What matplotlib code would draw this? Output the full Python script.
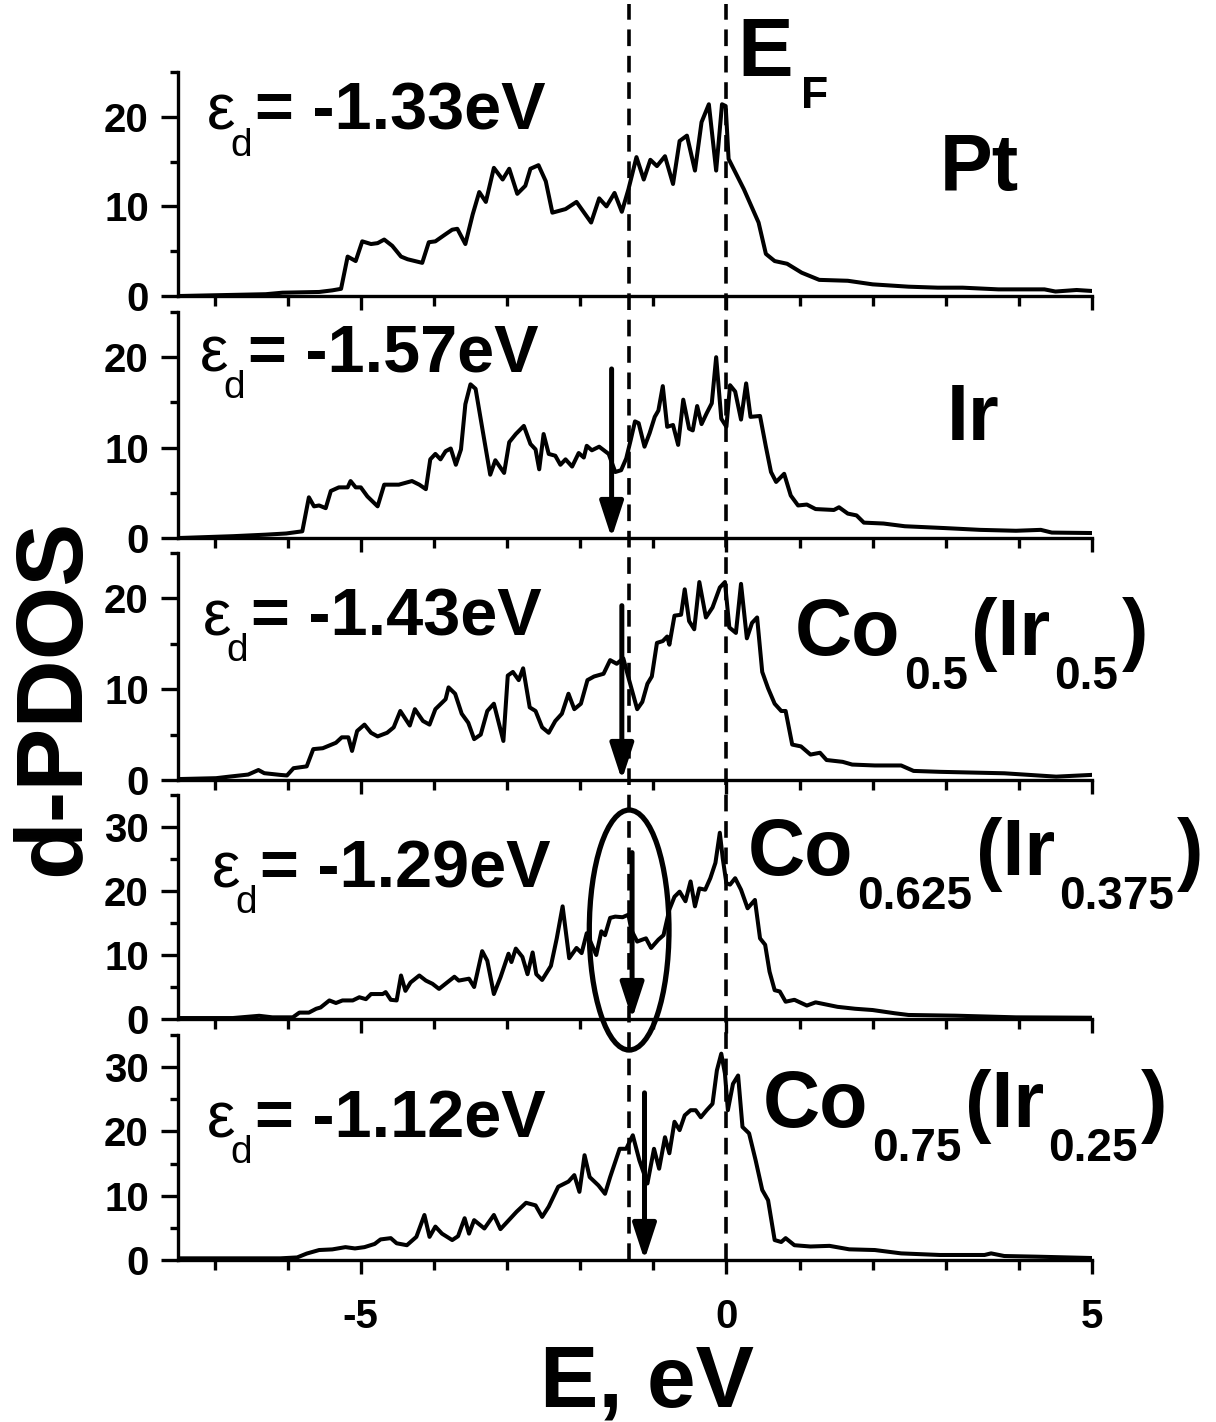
import matplotlib

matplotlib.use("Agg")
import matplotlib.pyplot as plt
from matplotlib.lines import Line2D
from matplotlib.patches import Ellipse
from matplotlib.ticker import MultipleLocator
from matplotlib.transforms import blended_transform_factory

plt.rcParams["font.family"] = ["Liberation Sans", "DejaVu Sans"]
plt.rcParams["font.weight"] = "bold"
plt.rcParams["axes.unicode_minus"] = False
plt.rcParams["lines.scale_dashes"] = False

FIG_W, FIG_H = 1216, 1422

# d-projected DOS, one curve per system (energy in eV, relative to E_F)
pt_e = [-7.48, -6.30, -6.07, -5.57, -5.39, -5.27, -5.18, -5.07, -4.98, -4.86, -4.77, -4.68,
        -4.57, -4.45, -4.36, -4.16, -4.07, -3.98, -3.84, -3.75, -3.68, -3.57, -3.47, -3.38,
        -3.29, -3.18, -3.06, -2.97, -2.86, -2.75, -2.68, -2.57, -2.47, -2.38, -2.20, -2.05,
        -1.85, -1.74, -1.64, -1.53, -1.43, -1.34, -1.23, -1.13, -1.04, -0.95, -0.84, -0.73,
        -0.64, -0.54, -0.43, -0.34, -0.24, -0.14, -0.06, -0.01, 0.03, 0.24, 0.44, 0.54,
        0.66, 0.83, 1.03, 1.27, 1.66, 2.00, 2.49, 2.89, 3.23, 3.72, 4.35, 4.50, 4.79, 5.00]
pt_dos = [0.0, 0.2, 0.37, 0.45, 0.63, 0.8, 4.4, 3.9, 6.1, 5.8, 5.9, 6.3,
          5.6, 4.4, 4.1, 3.7, 6.0, 6.1, 6.9, 7.4, 7.5, 5.8, 9.1, 11.6,
          10.5, 14.3, 13.0, 14.2, 11.4, 12.3, 14.2, 14.6, 12.8, 9.3, 9.7, 10.5,
          8.2, 10.9, 10.0, 11.5, 9.4, 11.9, 15.5, 13.0, 15.2, 14.5, 15.6, 12.5,
          17.3, 17.9, 14.0, 19.4, 21.4, 14.0, 21.4, 21.2, 15.3, 11.9, 8.2, 4.7,
          3.9, 3.6, 2.6, 1.8, 1.7, 1.3, 1.04, 0.93, 0.93, 0.74, 0.74, 0.5, 0.67, 0.56]

ir_e = [-7.48, -6.75, -6.30, -6.02, -5.80, -5.71, -5.64, -5.57, -5.48, -5.41, -5.30, -5.18,
        -5.14, -5.07, -5.00, -4.91, -4.77, -4.68, -4.48, -4.30, -4.20, -4.11, -4.05, -3.98,
        -3.91, -3.84, -3.77, -3.70, -3.63, -3.57, -3.50, -3.43, -3.34, -3.23, -3.16, -3.04,
        -2.97, -2.88, -2.77, -2.68, -2.61, -2.56, -2.50, -2.43, -2.34, -2.27, -2.20, -2.11,
        -2.02, -1.95, -1.91, -1.84, -1.74, -1.61, -1.52, -1.44, -1.37, -1.31, -1.25, -1.20,
        -1.12, -1.05, -0.98, -0.93, -0.87, -0.81, -0.73, -0.66, -0.59, -0.51, -0.46, -0.40,
        -0.34, -0.27, -0.20, -0.14, -0.07, 0.00, 0.05, 0.12, 0.20, 0.27, 0.33, 0.46,
        0.54, 0.61, 0.68, 0.79, 0.88, 0.98, 1.10, 1.22, 1.47, 1.54, 1.66, 1.78,
        1.88, 2.15, 2.44, 2.98, 3.47, 3.96, 4.30, 4.45, 5.00]
ir_dos = [0.0, 0.2, 0.37, 0.5, 0.74, 4.5, 3.5, 3.6, 3.3, 5.2, 5.6, 5.6,
          6.3, 5.6, 5.6, 4.6, 3.5, 5.9, 5.9, 6.3, 5.9, 5.4, 8.7, 9.3,
          8.7, 9.6, 9.9, 8.1, 9.8, 14.8, 17.0, 16.5, 12.2, 7.0, 8.6, 7.2,
          10.6, 11.5, 12.4, 10.4, 9.8, 7.6, 11.5, 9.3, 9.1, 8.1, 8.7, 7.9,
          9.4, 8.9, 10.2, 9.7, 10.1, 9.3, 7.3, 7.5, 8.8, 10.8, 12.9, 12.7,
          10.1, 11.6, 13.4, 14.1, 16.8, 12.3, 12.5, 10.3, 15.3, 12.1, 11.9, 14.6,
          12.6, 13.8, 14.9, 20.0, 13.2, 12.3, 16.9, 16.2, 13.1, 17.1, 13.4, 13.5,
          10.1, 7.3, 6.2, 7.1, 4.7, 3.6, 3.7, 3.2, 3.1, 3.4, 2.7, 2.5,
          1.7, 1.6, 1.3, 1.1, 0.9, 0.8, 0.9, 0.6, 0.55]

co50_e = [-7.51, -6.98, -6.80, -6.54, -6.40, -6.32, -6.10, -6.01, -5.92, -5.74, -5.65, -5.52,
          -5.34, -5.26, -5.17, -5.12, -5.05, -4.95, -4.86, -4.77, -4.64, -4.55, -4.46, -4.33,
          -4.26, -4.15, -4.06, -3.98, -3.84, -3.80, -3.71, -3.62, -3.53, -3.45, -3.36, -3.27,
          -3.18, -3.05, -2.99, -2.92, -2.84, -2.78, -2.69, -2.61, -2.52, -2.43, -2.34, -2.25,
          -2.16, -2.08, -1.99, -1.90, -1.81, -1.68, -1.59, -1.50, -1.41, -1.33, -1.22, -1.15,
          -1.08, -1.02, -0.95, -0.87, -0.81, -0.78, -0.71, -0.62, -0.57, -0.51, -0.44, -0.37,
          -0.28, -0.19, -0.09, -0.02, 0.04, 0.13, 0.20, 0.28, 0.35, 0.42, 0.49, 0.57,
          0.66, 0.75, 0.81, 0.90, 1.02, 1.15, 1.28, 1.37, 1.59, 1.72, 2.03, 2.39,
          2.56, 2.92, 3.80, 4.51, 4.99]
co50_dos = [0.1, 0.2, 0.37, 0.6, 1.1, 0.75, 0.56, 0.5, 1.3, 1.5, 3.4, 3.5,
            4.1, 4.7, 4.7, 3.2, 5.4, 6.1, 5.2, 4.8, 5.2, 5.8, 7.6, 6.0,
            7.8, 6.5, 6.1, 7.8, 8.9, 10.2, 9.5, 7.3, 6.3, 4.5, 5.0, 7.6,
            8.4, 4.3, 11.5, 11.9, 11.0, 12.3, 8.0, 7.6, 5.8, 5.2, 6.5, 7.3,
            9.5, 7.8, 8.4, 11.0, 11.4, 11.7, 13.2, 12.8, 13.4, 11.0, 7.8, 8.6,
            10.6, 11.4, 15.1, 15.3, 15.8, 14.9, 18.1, 18.2, 21.0, 17.5, 16.6, 21.8,
            17.9, 19.0, 21.2, 21.8, 16.8, 16.2, 21.6, 15.6, 17.3, 17.9, 11.9, 10.1,
            8.4, 7.6, 7.6, 3.9, 3.7, 2.8, 3.0, 2.2, 2.0, 1.7, 1.6, 1.6,
            1.0, 0.9, 0.74, 0.37, 0.56]

co625_e = [-7.48, -6.75, -6.39, -6.21, -5.93, -5.84, -5.71, -5.61, -5.55, -5.43, -5.34, -5.25,
           -5.11, -5.02, -4.93, -4.86, -4.70, -4.66, -4.59, -4.51, -4.45, -4.39, -4.32, -4.20,
           -4.11, -4.02, -3.93, -3.82, -3.72, -3.66, -3.52, -3.45, -3.34, -3.27, -3.18, -3.09,
           -2.98, -2.94, -2.88, -2.79, -2.72, -2.65, -2.60, -2.52, -2.40, -2.32, -2.24, -2.15,
           -2.05, -1.98, -1.91, -1.86, -1.78, -1.71, -1.66, -1.59, -1.52, -1.42, -1.34, -1.30,
           -1.22, -1.15, -1.10, -1.03, -0.93, -0.86, -0.78, -0.71, -0.64, -0.56, -0.49, -0.43,
           -0.37, -0.29, -0.22, -0.15, -0.09, -0.05, 0.00, 0.05, 0.12, 0.20, 0.29, 0.39,
           0.46, 0.53, 0.59, 0.66, 0.73, 0.81, 0.93, 1.10, 1.22, 1.52, 1.76, 2.00,
           2.30, 2.49, 3.13, 3.96, 5.00]
co625_dos = [0.15, 0.15, 0.5, 0.26, 0.26, 1.0, 1.0, 1.6, 1.8, 2.9, 2.5, 2.9,
             2.9, 3.4, 3.1, 3.9, 3.9, 4.2, 3.0, 2.9, 6.8, 4.4, 5.7, 6.8,
             6.0, 5.5, 4.7, 5.7, 6.6, 6.0, 6.3, 5.0, 10.6, 9.1, 3.9, 6.5,
             10.2, 8.9, 11.0, 9.7, 7.0, 10.4, 7.0, 6.1, 8.3, 12.6, 17.6, 9.5,
             11.1, 10.3, 13.4, 12.1, 10.0, 13.7, 13.1, 15.8, 16.0, 15.9, 16.3, 13.9,
             12.1, 12.4, 12.6, 11.1, 12.4, 13.1, 17.1, 19.1, 19.9, 18.4, 21.5, 17.6,
             20.4, 20.2, 22.0, 24.4, 29.1, 25.1, 21.2, 21.0, 22.0, 20.2, 17.3, 18.6,
             12.6, 11.6, 7.4, 4.5, 4.3, 2.7, 3.0, 2.1, 2.6, 1.9, 1.6, 1.4,
             0.9, 0.63, 0.52, 0.26, 0.2]

co75_e = [-7.51, -6.80, -6.10, -5.87, -5.74, -5.57, -5.39, -5.21, -5.08, -4.95, -4.81, -4.73,
          -4.59, -4.51, -4.37, -4.24, -4.13, -4.06, -3.98, -3.89, -3.75, -3.67, -3.58, -3.52,
          -3.45, -3.31, -3.18, -3.09, -3.00, -2.87, -2.74, -2.61, -2.52, -2.43, -2.30, -2.16,
          -2.08, -2.01, -1.94, -1.87, -1.75, -1.66, -1.59, -1.46, -1.37, -1.28, -1.19, -1.08,
          -0.99, -0.92, -0.84, -0.78, -0.71, -0.64, -0.57, -0.49, -0.42, -0.35, -0.27, -0.19,
          -0.13, -0.07, -0.02, 0.02, 0.09, 0.16, 0.22, 0.31, 0.40, 0.49, 0.57, 0.66,
          0.75, 0.81, 0.93, 1.15, 1.41, 1.68, 2.03, 2.39, 2.92, 3.53, 3.62, 3.80,
          4.24, 4.99]
co75_dos = [0.26, 0.26, 0.26, 0.4, 1.0, 1.55, 1.65, 2.0, 1.8, 2.0, 2.5, 3.2,
            3.4, 2.6, 2.3, 3.6, 7.0, 3.6, 5.2, 4.1, 3.1, 3.7, 6.5, 4.1,
            6.2, 4.9, 7.0, 4.8, 5.9, 7.5, 8.9, 8.5, 6.7, 8.3, 11.4, 12.2,
            13.2, 10.6, 16.3, 12.9, 11.6, 10.3, 12.9, 17.3, 17.3, 19.4, 15.5, 11.9,
            17.3, 14.2, 19.1, 16.6, 21.5, 20.2, 22.5, 23.3, 23.3, 22.2, 23.3, 24.3,
            29.5, 32.1, 29.0, 23.3, 27.4, 28.7, 20.7, 19.7, 15.5, 10.9, 9.3, 3.1,
            2.8, 3.4, 2.3, 2.1, 2.2, 1.66, 1.55, 1.03, 0.78, 0.78, 1.03, 0.62,
            0.52, 0.31]

curves = [(pt_e, pt_dos), (ir_e, ir_dos), (co50_e, co50_dos),
          (co625_e, co625_dos), (co75_e, co75_dos)]
eps_d = [-1.33, -1.57, -1.43, -1.29, -1.12]
y_max = [25, 25, 25, 35, 35]
arrow_top = [None, 18.7, 19.2, 26.0, 26.0]
systems = [
    [("Pt", "")],
    [("Ir", "")],
    [("Co", "0.5"), ("(Ir", "0.5"), (")", "")],
    [("Co", "0.625"), ("(Ir", "0.375"), (")", "")],
    [("Co", "0.75"), ("(Ir", "0.25"), (")", "")],
]

# panel extents in pixels (top, bottom) and label anchors
panel_px = [(72, 296), (312, 538), (553, 780), (795, 1019), (1035, 1260)]
ax_left, ax_right = 178, 1092
eps_pos = [(207, 130), (200, 372), (203, 635), (212, 887), (207, 1137)]
sys_pos = [(940, 190), (947, 440), (795, 655), (748, 875), (763, 1127)]

fig = plt.figure(figsize=(FIG_W / 100, FIG_H / 100), dpi=100)
renderer = fig.canvas.get_renderer()


def chain(x_px, base_px, parts):
    # lay text pieces left to right; parts = (text, size, weight, drop_px, gap_px)
    x = x_px
    for txt, size, weight, drop, gap in parts:
        if not txt:
            continue
        x += gap
        t = fig.text(x / FIG_W, 1 - (base_px + drop) / FIG_H, txt, fontsize=size,
                     fontweight=weight, ha="left", va="baseline")
        x = t.get_window_extent(renderer).x1


axes = []
for i, (top, bot) in enumerate(panel_px):
    ax = fig.add_axes([ax_left / FIG_W, 1 - bot / FIG_H,
                       (ax_right - ax_left) / FIG_W, (bot - top) / FIG_H])
    ax.set_facecolor("none")
    e, dos = curves[i]
    ax.plot(e, dos, color="black", lw=2.9, solid_joinstyle="round")
    ax.set_xlim(-7.5, 5)
    ax.set_ylim(0, y_max[i])
    for s in ("top", "right"):
        ax.spines[s].set_visible(False)
    for s in ("left", "bottom"):
        ax.spines[s].set_linewidth(2.4)
    ax.xaxis.set_major_locator(MultipleLocator(5))
    ax.xaxis.set_minor_locator(MultipleLocator(1))
    ax.yaxis.set_major_locator(MultipleLocator(10))
    ax.yaxis.set_minor_locator(MultipleLocator(5))
    ax.tick_params(which="both", direction="out", width=2.4, labelsize=29)
    ax.tick_params(axis="y", which="major", length=12, pad=9)
    ax.tick_params(axis="y", which="minor", length=6)
    ax.tick_params(axis="x", which="major", length=10, pad=17)
    ax.tick_params(axis="x", which="minor", length=7)
    if i < len(panel_px) - 1:
        ax.tick_params(axis="x", labelbottom=False)
    if arrow_top[i] is not None:
        ax.annotate("", xy=(eps_d[i], 0), xytext=(eps_d[i], arrow_top[i]),
                    arrowprops=dict(arrowstyle="-|>,head_length=1.1,head_width=0.36",
                                    lw=3.6, color="black", mutation_scale=20,
                                    shrinkA=0, shrinkB=0))
    axes.append(ax)

    ex, eb = eps_pos[i]
    chain(ex, eb, [("ε", 46, "normal", 0, 0), ("d", 28, "normal", 26, -5),
                   (f"= {eps_d[i]:.2f}eV", 48, "bold", 0, 3)])
    sx, sb = sys_pos[i]
    pieces = []
    for k, (main, sub) in enumerate(systems[i]):
        pieces.append((main, 57, "bold", 0, 0 if k == 0 else 3))
        pieces.append((sub, 33, "bold", 34, 4))
    chain(sx, sb, pieces)

# guide lines at the Pt d-band centre and at the Fermi level
trans = blended_transform_factory(axes[-1].transData, fig.transFigure)
for xv in (eps_d[0], 0.0):
    fig.add_artist(Line2D([xv, xv], [1 - 1260 / FIG_H, 1 - 4 / FIG_H], transform=trans,
                          color="black", lw=2.6, linestyle=(0, (12, 7))))

# ring around the d-band centre of Co0.625(Ir0.375)
fig.add_artist(Ellipse((-1.33, 13.9), width=1.09, height=37.5, transform=axes[3].transData,
                       fill=False, lw=3.8, color="black"))

chain(737, 76, [("E", 60, "bold", 0, 0), ("F", 32, "bold", 32, 8)])

fig.text(55 / FIG_W, 1 - 697 / FIG_H, "d-PDOS", rotation=90, ha="center", va="center",
         fontsize=68, fontweight="bold")
fig.text(647 / FIG_W, 1 - 1406 / FIG_H, "E, eV", ha="center", va="baseline",
         fontsize=63, fontweight="bold")

fig.savefig("out.png", dpi=100)
